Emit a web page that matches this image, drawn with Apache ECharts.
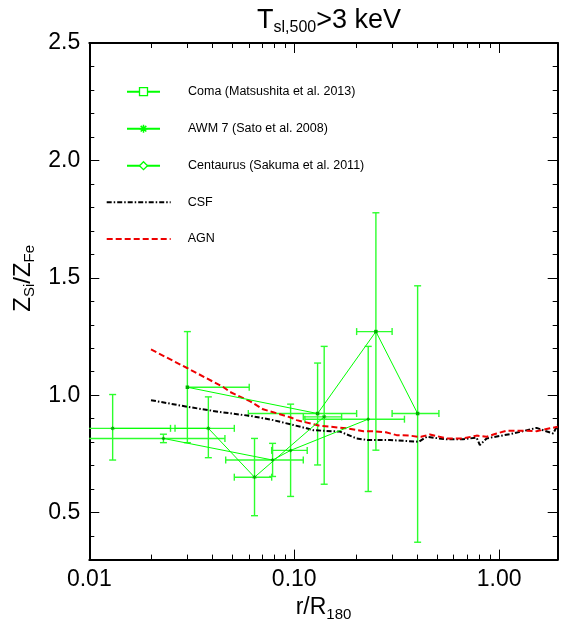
<!DOCTYPE html>
<html><head><meta charset="utf-8">
<script src="https://cdn.jsdelivr.net/npm/echarts@6/dist/echarts.min.js"></script>
<style>html,body{margin:0;padding:0;background:#fff}#c{width:561px;height:627px}</style>
</head><body><div id="c"></div>
<script>
// ---- data ----
const comaX   = [0.0301, 0.130, 0.2503, 0.400];
const comaY   = [1.034, 0.922, 1.271, 0.922];
const comaXLo = [0.0301, 0.0597, 0.2016, 0.3003];
const comaXHi = [0.0603, 0.2016, 0.3003, 0.508];
const comaYLo = [0.798, 0.703, 0.766, 0.374];
const comaYHi = [1.271, 1.137, 1.777, 1.466];

const awmX   = [0.0130, 0.0381, 0.0640, 0.140];
const awmY   = [0.859, 0.859, 0.651, 0.908];
const awmXLo = [0.005, 0.0262, 0.0510, 0.1107];
const awmXHi = [0.0249, 0.0510, 0.0776, 0.1703];
const awmYLo = [0.724, 0.734, 0.487, 0.621];
const awmYHi = [1.003, 0.993, 0.816, 1.208];

const cenX   = [0.0230, 0.0784, 0.0960, 0.2296];
const cenY   = [0.816, 0.724, 0.765, 0.898];
const cenXLo = [0.005, 0.0463, 0.0776, 0.1127];
const cenXHi = [0.0459, 0.1107, 0.1157, 0.345];
const cenYLo = [0.798, 0.654, 0.569, 0.590];
const cenYHi = [0.834, 0.795, 0.962, 1.208];

const csfX = [0.020, 0.030, 0.043, 0.061, 0.079, 0.099, 0.115, 0.124, 0.167, 0.2016, 0.230, 0.293, 0.406, 0.443, 0.554, 0.667, 0.776, 0.805, 0.868, 1.170, 1.522, 1.639, 1.834, 1.93];
const csfY = [0.979, 0.951, 0.929, 0.912, 0.894, 0.873, 0.859, 0.851, 0.845, 0.816, 0.809, 0.809, 0.802, 0.823, 0.812, 0.813, 0.819, 0.788, 0.816, 0.837, 0.861, 0.851, 0.837, 0.873];

const agnX = [0.020, 0.030, 0.045, 0.0486, 0.061, 0.0705, 0.076, 0.097, 0.1027, 0.133, 0.149, 0.180, 0.2175, 0.243, 0.280, 0.316, 0.366, 0.403, 0.416, 0.459, 0.554, 0.667, 0.776, 0.868, 0.971, 1.087, 1.262, 1.522, 1.767, 1.93];
const agnY = [1.195, 1.116, 1.035, 1.014, 0.974, 0.940, 0.932, 0.904, 0.894, 0.870, 0.866, 0.859, 0.847, 0.847, 0.842, 0.830, 0.828, 0.823, 0.823, 0.833, 0.816, 0.816, 0.828, 0.823, 0.837, 0.849, 0.849, 0.847, 0.859, 0.866];

const xMajorTicks = [0.01, 0.1, 1];
const xMinorTicks = [0.02,0.03,0.04,0.05,0.06,0.07,0.08,0.09,0.2,0.3,0.4,0.5,0.6,0.7,0.8,0.9];
const yMajorTicks = [0.5, 1.0, 1.5, 2.0, 2.5];
const yMinorTicks = [0.3,0.4,0.6,0.7,0.8,0.9,1.1,1.2,1.3,1.4,1.6,1.7,1.8,1.9,2.1,2.2,2.3,2.4];

const XMIN = 0.01, XMAX = 1.93, YMIN = 0.3, YMAX = 2.5;
const FONT = 'Liberation Sans, Arial, Helvetica, sans-serif';
const GREEN = '#00ff00', BAR = '#2cff2c', MARK = '#00b000';

function pairs(xs, ys) { return xs.map((x, i) => [x, ys[i]]); }
function errData(x, y, xl, xh, yl, yh) { return x.map((v, i) => [v, y[i], xl[i], xh[i], yl[i], yh[i]]); }

function errRender(params, api) {
  const x = api.value(0), y = api.value(1), xl = api.value(2), xh = api.value(3), yl = api.value(4), yh = api.value(5);
  const cs = params.coordSys;
  const p = api.coord([x, y]);
  let pxl = api.coord([xl, y])[0];
  const pxh = api.coord([xh, y])[0];
  const pyl = api.coord([x, yl])[1], pyh = api.coord([x, yh])[1];
  const c = 3.5;
  const st = { stroke: BAR, lineWidth: 1.4 };
  const ch = [];
  const clipL = pxl < cs.x;
  if (clipL) pxl = cs.x;
  ch.push({ type: 'line', shape: { x1: pxl, y1: p[1], x2: pxh, y2: p[1] }, style: st });
  if (!clipL && xl < x) ch.push({ type: 'line', shape: { x1: pxl, y1: p[1] - c, x2: pxl, y2: p[1] + c }, style: st });
  if (xh > x) ch.push({ type: 'line', shape: { x1: pxh, y1: p[1] - c, x2: pxh, y2: p[1] + c }, style: st });
  ch.push({ type: 'line', shape: { x1: p[0], y1: pyl, x2: p[0], y2: pyh }, style: st });
  ch.push({ type: 'line', shape: { x1: p[0] - c, y1: pyl, x2: p[0] + c, y2: pyl }, style: st });
  ch.push({ type: 'line', shape: { x1: p[0] - c, y1: pyh, x2: p[0] + c, y2: pyh }, style: st });
  return { type: 'group', children: ch };
}

function mkX(pos, ticks, len, label, line) {
  return {
    type: 'log', logBase: 10, min: XMIN, max: XMAX, position: pos, gridIndex: 0,
    axisLine: { show: line, onZero: false, lineStyle: { color: '#000', width: 2 } },
    axisTick: { show: true, inside: true, length: len, customValues: ticks, lineStyle: { color: '#000', width: 1 } },
    axisLabel: label ? { show: true, customValues: ticks, formatter: v => Number(v).toFixed(2), fontSize: 23, color: '#000', fontFamily: FONT, margin: 9 } : { show: false },
    splitLine: { show: false }, minorTick: { show: false }
  };
}
function mkY(pos, ticks, len, label, line) {
  return {
    type: 'value', min: YMIN, max: YMAX, position: pos, gridIndex: 0,
    axisLine: { show: line, onZero: false, lineStyle: { color: '#000', width: 2 } },
    axisTick: { show: true, inside: true, length: len, customValues: ticks, lineStyle: { color: '#000', width: 1 } },
    axisLabel: label ? { show: true, customValues: ticks, formatter: v => Number(v).toFixed(1), fontSize: 23, color: '#000', fontFamily: FONT, margin: 9 } : { show: false },
    splitLine: { show: false }, minorTick: { show: false }
  };
}

const xAxes = [mkX('bottom', xMajorTicks, 10, true, true), mkX('bottom', xMinorTicks, 5, false, false),
               mkX('top', xMajorTicks, 10, false, true), mkX('top', xMinorTicks, 5, false, false)];
xAxes[0].name = '{a|r/R}{b|180}';
xAxes[0].nameLocation = 'middle';
xAxes[0].nameGap = 33;
xAxes[0].nameTextStyle = { fontFamily: FONT, color: '#000', rich: {
  a: { fontSize: 23, lineHeight: 28, fontFamily: FONT, color: '#000' },
  b: { fontSize: 15, lineHeight: 12, verticalAlign: 'bottom', fontFamily: FONT, color: '#000' } } };

const yAxes = [mkY('left', yMajorTicks, 10, true, true), mkY('left', yMinorTicks, 5, false, false),
               mkY('right', yMajorTicks, 10, false, true), mkY('right', yMinorTicks, 5, false, false)];
yAxes[0].name = '{a|Z}{b|Si}{a|/Z}{b|Fe}';
yAxes[0].nameLocation = 'middle';
yAxes[0].nameRotate = 90;
yAxes[0].nameGap = 52;
yAxes[0].nameTextStyle = { fontFamily: FONT, color: '#000', padding: [0, 0, 0, 46], rich: {
  a: { fontSize: 24, lineHeight: 28, fontFamily: FONT, color: '#000' },
  b: { fontSize: 15, lineHeight: 12, verticalAlign: 'bottom', fontFamily: FONT, color: '#000' } } };

const ASTER = 'path://M5,0L5,10M0,5L10,5M1.5,1.5L8.5,8.5M8.5,1.5L1.5,8.5';

const option = {
  backgroundColor: '#fff',
  animation: false,
  title: {
    text: '{a|T}{b|sl,500}{a|>3 keV}', left: 252, top: 0,
    textStyle: { fontWeight: 'normal', rich: {
      a: { fontSize: 27, lineHeight: 31, fontFamily: FONT, color: '#000', fontWeight: 'normal' },
      b: { fontSize: 16, lineHeight: 14, verticalAlign: 'bottom', fontFamily: FONT, color: '#000', fontWeight: 'normal' } } }
  },
  grid: { left: 89.3, right: 3.3, top: 43, bottom: 65.3, containLabel: false },
  xAxis: xAxes,
  yAxis: yAxes,
  legend: [
    { orient: 'vertical', left: 126, top: 84.7, padding: 0, itemWidth: 33, itemHeight: 10, itemGap: 23, selectedMode: false,
      textStyle: { fontSize: 12.5, color: '#000', fontFamily: FONT, lineHeight: 14, padding: [0, 0, 0, 23] },
      data: [
        { name: 'Coma (Matsushita et al. 2013)', itemStyle: { color: '#fff', borderColor: GREEN, borderWidth: 1.3 } },
        { name: 'AWM 7 (Sato et al. 2008)', itemStyle: { color: GREEN, borderColor: GREEN, borderWidth: 1.5 } },
        { name: 'Centaurus (Sakuma et al. 2011)', itemStyle: { color: '#fff', borderColor: GREEN, borderWidth: 1.3 } }
      ] },
    { orient: 'vertical', left: 105.7, top: 195.3, padding: 0, itemWidth: 64, itemHeight: 10, itemGap: 22.7, selectedMode: false,
      textStyle: { fontSize: 12.5, color: '#000', fontFamily: FONT, lineHeight: 14, padding: [0, 0, 0, 12] },
      data: [ { name: 'CSF', itemStyle: { opacity: 0 } }, { name: 'AGN', itemStyle: { opacity: 0 } } ] }
  ],
  series: [
    { name: 'CSF', type: 'line', data: pairs(csfX, csfY), symbol: 'none', z: 3,
      lineStyle: { color: '#000', width: 2, type: [5, 2, 1.5, 2] }, itemStyle: { color: '#000' } },
    { name: 'AGN', type: 'line', data: pairs(agnX, agnY), symbol: 'none', z: 3,
      lineStyle: { color: '#ee0000', width: 2, type: [6, 3] }, itemStyle: { color: '#ee0000' } },
    { name: 'Coma err', type: 'custom', renderItem: errRender, data: errData(comaX, comaY, comaXLo, comaXHi, comaYLo, comaYHi), encode: { x: 0, y: 1 }, z: 2, silent: true },
    { name: 'AWM err', type: 'custom', renderItem: errRender, data: errData(awmX, awmY, awmXLo, awmXHi, awmYLo, awmYHi), encode: { x: 0, y: 1 }, z: 2, silent: true },
    { name: 'Cen err', type: 'custom', renderItem: errRender, data: errData(cenX, cenY, cenXLo, cenXHi, cenYLo, cenYHi), encode: { x: 0, y: 1 }, z: 2, silent: true },
    { name: 'Coma (Matsushita et al. 2013)', type: 'line', data: pairs(comaX, comaY), symbol: 'rect', symbolSize: 3.5, z: 4,
      lineStyle: { color: GREEN, width: 1 }, itemStyle: { color: MARK } },
    { name: 'AWM 7 (Sato et al. 2008)', type: 'line', data: pairs(awmX, awmY), symbol: ASTER, symbolSize: 4, z: 4,
      lineStyle: { color: GREEN, width: 1 }, itemStyle: { color: MARK, borderColor: MARK, borderWidth: 1 } },
    { name: 'Centaurus (Sakuma et al. 2011)', type: 'line', data: pairs(cenX, cenY), symbol: 'diamond', symbolSize: 4, z: 4,
      lineStyle: { color: GREEN, width: 1 }, itemStyle: { color: MARK } }
  ]
};
const chart = echarts.init(document.getElementById('c'), null, { renderer: 'canvas' });
chart.setOption(option);
</script></body></html>
